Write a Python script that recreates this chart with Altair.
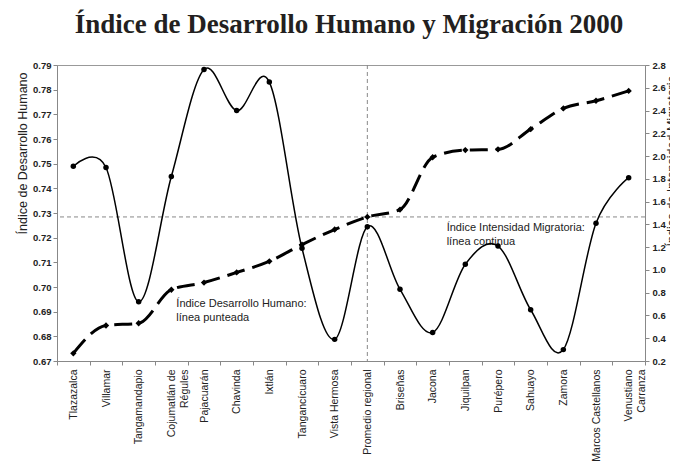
import altair as alt
import pandas as pd

categories = ["Tlazazalca", "Villamar", "Tangamandapio", "Cojumatlán de Régules",
              "Pajacuarán", "Chavinda", "Ixtlán", "Tangancícuaro", "Vista Hermosa",
              "Promedio regional", "Briseñas", "Jacona", "Jiquilpan", "Purépero",
              "Sahuayo", "Zamora", "Marcos Castellanos", "Venustiano Carranza"]
idh = [0.6731, 0.6844, 0.6853, 0.6989, 0.7018, 0.7059, 0.7104, 0.7172, 0.7233,
       0.7284, 0.7314, 0.7526, 0.7555, 0.7558, 0.7640, 0.7724, 0.7755, 0.7795]
iim = [1.91, 1.90, 0.72, 1.82, 2.76, 2.40, 2.65, 1.19, 0.39,
       1.38, 0.83, 0.45, 1.05, 1.21, 0.65, 0.30, 1.41, 1.81]

left_ticks = [0.67, 0.68, 0.69, 0.70, 0.71, 0.72, 0.73, 0.74, 0.75, 0.76, 0.77, 0.78, 0.79]
right_ticks = [0.2, 0.4, 0.6, 0.8, 1.0, 1.2, 1.4, 1.6, 1.8, 2.0, 2.2, 2.4, 2.6, 2.8]

note1_cat = ["Cojumatlán de Régules"]
note1_y = [0.6920]
note1_text = ["Índice Desarrollo Humano:\nlínea punteada"]
note2_cat = ["Jacona"]
note2_y = [0.7229]
note2_text = ["Índice Intensidad Migratoria:\nlínea continua"]

ref_cat = ["Promedio regional"]
ref_idh = [idh[categories.index("Promedio regional")]]

df = pd.DataFrame({"Municipio": categories, "IDH": idh, "IIM": iim})
df_n1 = pd.DataFrame({"Municipio": note1_cat, "ny": note1_y, "t": note1_text})
df_n2 = pd.DataFrame({"Municipio": note2_cat, "ny": note2_y, "t": note2_text})
df_v = pd.DataFrame({"Municipio": ref_cat})
df_h = pd.DataFrame({"ny": ref_idh})

label_expr = ("datum.label == 'Cojumatlán de Régules' ? ['Cojumatlán de', 'Régules'] : "
              "datum.label == 'Venustiano Carranza' ? ['Venustiano', 'Carranza'] : datum.label")

x_axis = alt.Axis(title=None, labelAngle=270, labelFontSize=10.5, labelColor="#222",
                  labelPadding=4, labelLimit=200, tickSize=4, tickColor="#888",
                  domainColor="#888", tickBand="extent", labelExpr=label_expr,
                  labelLineHeight=13)
x_scale = alt.Scale(type="band", domain=categories, paddingInner=0, paddingOuter=0)

def xenc():
    return alt.X("Municipio:N", sort=categories, scale=x_scale, axis=x_axis)

l_scale = alt.Scale(domain=[0.67, 0.79], nice=False, zero=False)
l_axis = alt.Axis(title="Índice de Desarrollo Humano", values=left_ticks, format=".2f",
                  grid=False, labelFontSize=9.5, labelColor="#222", labelFontWeight="bold",
                  tickSize=4, tickColor="#888", domainColor="#888", labelPadding=2,
                  titleFontSize=12.5, titleFontWeight="normal", titleColor="#222",
                  titleAngle=270, titleX=-35, titleY=7, titleAlign="right",
                  titleBaseline="middle")

def yl(field):
    return alt.Y(field, scale=l_scale, axis=l_axis)

r_scale = alt.Scale(domain=[0.2, 2.8], nice=False, zero=False)
r_axis = alt.Axis(title="Índice de Intensidad Migratoria", orient="right", values=right_ticks,
                  format=".1f", grid=False, labelFontSize=9.5, labelColor="#222",
                  labelFontWeight="bold", tickSize=4, tickColor="#888", domainColor="#888",
                  labelPadding=3, titleFontSize=12.5, titleFontWeight="normal",
                  titleColor="#222", titleAngle=270, titleX=26, titleY=10,
                  titleAlign="right", titleBaseline="middle")

base = alt.Chart(df)

idh_line = base.mark_line(color="black", strokeWidth=3, strokeDash=[18, 8],
                          interpolate="monotone").encode(x=xenc(), y=yl("IDH:Q"))
idh_pts = base.mark_point(shape="diamond", filled=True, color="black", size=40, opacity=1).encode(
    x=xenc(), y=yl("IDH:Q"))
hrule = alt.Chart(df_h).mark_rule(color="#888", strokeDash=[4, 3], strokeWidth=1).encode(
    y=yl("ny:Q"))
vrule = alt.Chart(df_v).mark_rule(color="#888", strokeDash=[4, 3], strokeWidth=1).encode(
    x=xenc())
note1 = alt.Chart(df_n1).mark_text(align="left", baseline="alphabetic", dx=5, fontSize=11,
                                   color="#222", lineBreak="\n", lineHeight=14).encode(
    x=xenc(), y=yl("ny:Q"), text="t:N")
note2 = alt.Chart(df_n2).mark_text(align="left", baseline="alphabetic", dx=14, fontSize=11,
                                   color="#222", lineBreak="\n", lineHeight=14).encode(
    x=xenc(), y=yl("ny:Q"), text="t:N")

left = alt.layer(hrule, vrule, idh_line, idh_pts, note1, note2)

iim_line = base.mark_line(color="black", strokeWidth=1.5, interpolate="cardinal").encode(
    x=xenc(), y=alt.Y("IIM:Q", scale=r_scale, axis=r_axis))
iim_pts = base.mark_circle(color="black", size=30, opacity=1).encode(
    x=xenc(), y=alt.Y("IIM:Q", scale=r_scale, axis=r_axis))
right = alt.layer(iim_line, iim_pts)

chart = alt.layer(left, right).resolve_scale(y="independent").properties(
    width=588, height=296,
    autosize=alt.AutoSizeParams(type="none"),
    padding={"left": 49, "top": 57, "right": 25, "bottom": 100},
    title=alt.Title("Índice de Desarrollo Humano y Migración 2000", font="Liberation Serif",
                    fontSize=27, fontWeight="bold", color="#231f20", anchor="middle",
                    offset=21, dx=-2),
).configure(font="Liberation Sans").configure_view(stroke="#999", strokeWidth=1)

chart.save("out.html", embed_options={"renderer": "svg", "actions": False})
